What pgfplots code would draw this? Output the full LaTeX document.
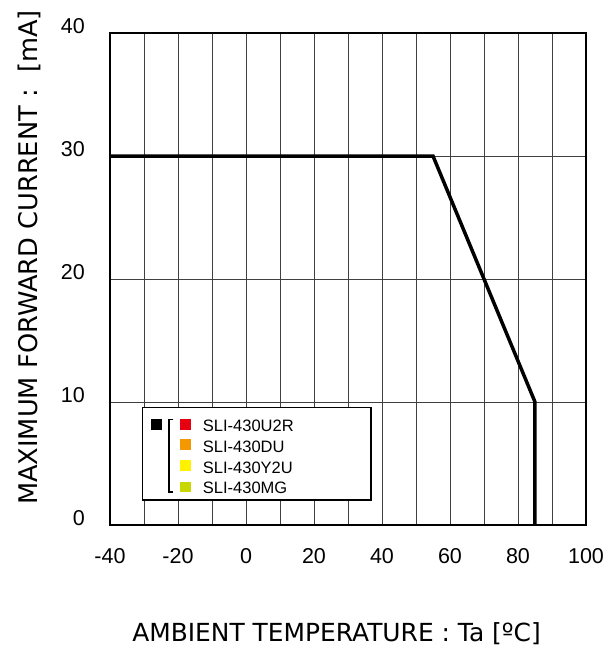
\documentclass[border=0pt]{standalone}
\usepackage{pgfplots}
\pgfplotsset{compat=1.18}
\usepackage{fontspec}
\setmainfont{Liberation Sans}
\newfontfamily\labelfont{DejaVu Sans}
\definecolor{cRed}{RGB}{230,0,18}
\definecolor{cOrange}{RGB}{243,152,0}
\definecolor{cYellow}{RGB}{255,241,0}
\definecolor{cGreen}{RGB}{200,215,0}
\begin{document}
\begin{tikzpicture}
\useasboundingbox (-110pt,-124pt) rectangle (506pt,525pt);
\begin{axis}[
  at={(0,0)}, anchor=south west,
  scale only axis, width=476pt, height=492pt,
  xmin=-40, xmax=100, ymin=0, ymax=40,
  xtick={-40,-20,0,20,40,60,80,100},
  xticklabels={-40,-20,0,20,40,60,80,100},
  minor xtick={-30,-10,10,30,50,70,90},
  ytick={0,10,20,30,40},
  yticklabels={0,10,20,30,40},
  major tick length=0pt, minor tick length=0pt,
  grid=both,
  major grid style={black!75, line width=0.9pt},
  minor grid style={black!75, line width=0.9pt},
  axis line style={black, line width=1.6pt},
  xticklabel style={font=\fontsize{21.5}{23}\selectfont, anchor=base, inner sep=0pt, yshift=-38.3pt},
  yticklabel style={font=\fontsize{21.5}{23}\selectfont, anchor=base east, inner sep=0pt, xshift=-25pt, yshift=0pt},
  clip=false,
]
\addplot[black, line width=3.5pt, line join=miter] coordinates {(-40,30) (55,30) (85,10) (85,0)};
\end{axis}
\begin{scope}[shift={(-110pt,525pt)}, x=1pt, y=-1pt]
  % axis labels
  \node[font=\labelfont\fontsize{24.9}{26}\selectfont, anchor=base, inner sep=0pt] at (336.5,641) {AMBIENT TEMPERATURE : Ta [ºC]};
  \node[font=\labelfont\fontsize{25.7}{27}\selectfont, anchor=base, inner sep=0pt, rotate=90] at (38,257.5) {MAXIMUM FORWARD CURRENT :\ \ [mA]};
  % legend
  \filldraw[fill=white, draw=black, line width=1.6pt] (142.7,407.5) rectangle (371,500);
  \fill[black] (151,419) rectangle (162,429.7);
  \draw[black, line width=1.1pt] (173.5,419.5) -- (169,419.5) -- (169,492) -- (173.5,492);
  \fill[cRed] (180,418.5) rectangle (190.7,429.5);
  \fill[cOrange] (180,439.2) rectangle (190.7,450);
  \fill[cYellow] (180,460) rectangle (190.7,471);
  \fill[cGreen] (180,481.5) rectangle (190.7,492.3);
  \begin{scope}[every node/.style={font=\fontsize{16.5}{18}\selectfont, anchor=base west, inner sep=0pt}]
    \node at (202.7,431.7) {SLI-430U2R};
    \node at (202.7,452.7) {SLI-430DU};
    \node at (202.7,473.3) {SLI-430Y2U};
    \node at (202.7,493.7) {SLI-430MG};
  \end{scope}
\end{scope}
\end{tikzpicture}
\end{document}
